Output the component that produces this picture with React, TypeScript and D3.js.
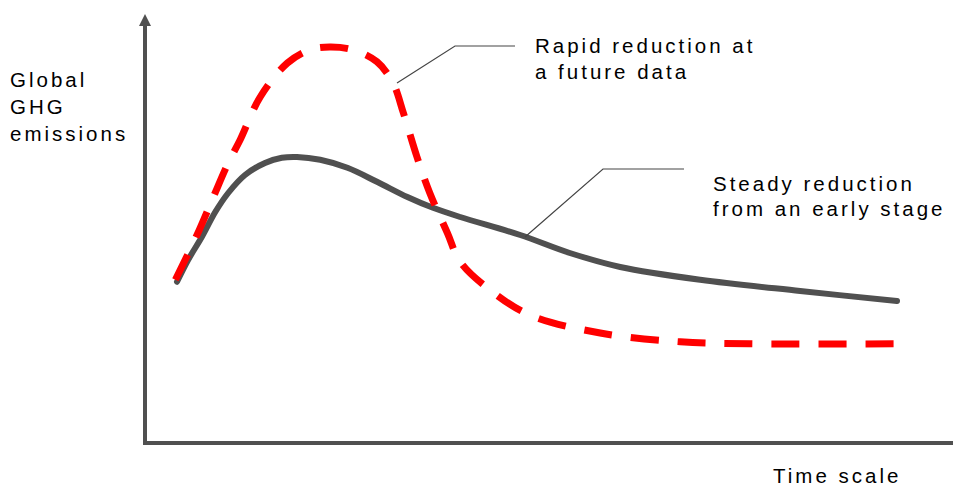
import React from "react";
import * as d3 from "d3";

// Steady reduction (solid grey)
const steadyTime = [4, 5.4, 7.1, 8.8, 10.4, 12.5, 15, 17.1, 19, 21.9, 25.3, 29, 32.8, 36, 39.4, 46.9, 53.1, 59.4, 69.4, 81.9, 94];
const steadyValues = [40.3, 45.8, 51.5, 57.8, 62.5, 67, 70, 71.3, 71.5, 70.8, 68.8, 65.3, 61.5, 58.8, 56.5, 52, 47.5, 44, 40.8, 38, 35.5];

// Rapid reduction at a future date (red dashed)
const rapidTime = [3.8, 6.5, 8.5, 10.4, 11.9, 14.4, 17.8, 20.6, 23.1, 26, 29, 31, 32.3, 34, 35.6, 37.8, 39.4, 43.1, 48.1, 56.9, 66.9, 75.6, 95];
const rapidValues = [40.8, 52, 61.3, 70, 75.8, 86.5, 95, 98.3, 99, 98.3, 95.3, 90, 82.5, 71.5, 62.5, 52.5, 45.3, 38.3, 32, 27.5, 25.3, 24.8, 24.8];

const yTitle = ["Global", "GHG", "emissions"];
const xTitle = "Time scale";
const rapidLabel = ["Rapid reduction at", "a future data"];
const steadyLabel = ["Steady reduction", "from an early stage"];

const W = 953;
const H = 486;
const FONT = "'Liberation Sans', Arial, sans-serif";
const AXIS = "#505050";

type Pt = { t: number; v: number };

export default function App() {
  const x = d3.scaleLinear().domain([0, 100]).range([145, 945]);
  const y = d3.scaleLinear().domain([0, 100]).range([443, 43]);

  const steady: Pt[] = steadyTime.map((t, i) => ({ t, v: steadyValues[i] }));
  const rapid: Pt[] = rapidTime.map((t, i) => ({ t, v: rapidValues[i] }));

  const line = d3
    .line<Pt>()
    .x((d) => x(d.t))
    .y((d) => y(d.v))
    .curve(d3.curveCatmullRom.alpha(0.5));

  const x0 = x(0);
  const y0 = y(0);

  // leader lines anchored on the curves
  const a1 = { x: x(31.5), y: y(90) };
  const a2 = { x: x(47.5), y: y(51.5) };

  const textProps = {
    fontFamily: FONT,
    fontSize: 20.5,
    letterSpacing: 3,
    fill: "#000",
  };

  return (
    <svg
      width={W}
      height={H}
      style={{ position: "absolute", left: 0, top: 0, background: "#fff" }}
    >
      {/* axes */}
      <line x1={x0} y1={y0 + 2} x2={x0} y2={24} stroke={AXIS} strokeWidth={4} />
      <polygon
        points={`${x0},14 ${x0 - 6},26 ${x0 + 6},26`}
        fill={AXIS}
      />
      <line x1={x0 - 2} y1={y0} x2={W} y2={y0} stroke={AXIS} strokeWidth={4} />

      {/* curves */}
      <path
        d={line(steady) || ""}
        fill="none"
        stroke={AXIS}
        strokeWidth={6}
        strokeLinecap="round"
      />
      <path
        d={line(rapid) || ""}
        fill="none"
        stroke="#ff0000"
        strokeWidth={7}
        strokeDasharray="28 19"
      />

      {/* leaders */}
      <polyline
        points={`${a1.x},${a1.y} ${a1.x + 58},46 ${a1.x + 118},46`}
        fill="none"
        stroke="#444"
        strokeWidth={1.2}
      />
      <polyline
        points={`${a2.x},${a2.y} ${a2.x + 78},169 ${a2.x + 159},169`}
        fill="none"
        stroke="#444"
        strokeWidth={1.2}
      />

      {/* texts */}
      {yTitle.map((s, i) => (
        <text key={s} x={10} y={87 + i * 27} {...textProps}>
          {s}
        </text>
      ))}
      {rapidLabel.map((s, i) => (
        <text key={s} x={535} y={53 + i * 26} {...textProps}>
          {s}
        </text>
      ))}
      {steadyLabel.map((s, i) => (
        <text key={s} x={713} y={191 + i * 25} {...textProps}>
          {s}
        </text>
      ))}
      <text x={773} y={483} {...textProps}>
        {xTitle}
      </text>
    </svg>
  );
}
